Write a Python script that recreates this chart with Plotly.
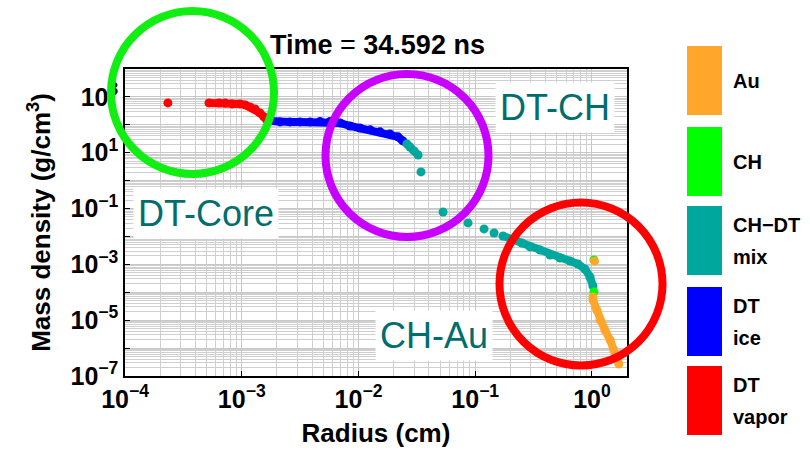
import plotly.graph_objects as go

# ---- density profile at t = 34.592 ns, one array pair per material ----
# None marks a break between separate groups of zones
vapor_r = [2.33e-4, None, 5.24e-4, 6.38e-4, 7.2e-4, 8.25e-4, 9.66e-4, 1.07e-3,
           1.18e-3, 1.30e-3, 1.43e-3, 1.55e-3, 1.64e-3]
vapor_rho = [610, None, 610, 610, 600, 561, 561, 516, 438, 372, 267, 192, 150]

ice_r = [1.75e-3, 2.13e-3, 2.59e-3, 3.16e-3, 3.85e-3, 4.68e-3, 5.70e-3, 6.95e-3,
         8.45e-3, 1.03e-2, 1.26e-2, 1.53e-2, 1.86e-2, 2.18e-2, 2.40e-2]
ice_rho = [138, 127, 127, 127, 127, 132, 132, 117, 91, 77, 66, 56, 47, 37, 26.5]

mix_r = [2.60e-2, 2.76e-2, 2.99e-2, 3.24e-2, None, 3.43e-2, None, 5.30e-2, None,
         8.67e-2, None, 0.119, None, 0.145, None, 0.173, 0.210, 0.251, 0.294,
         0.359, 0.437, 0.532, 0.649, 0.759, 0.871, 0.962, 1.02]
mix_rho = [20.7, 16.1, 11.6, 8.3, None, 2.05, None, 0.0755, None,
           0.0305, None, 0.0186, None, 0.0133, None, 0.0104, 7.5e-3, 5.85e-3, 4.21e-3,
           3.28e-3, 2.17e-3, 1.69e-3, 1.32e-3, 1.03e-3, 6.84e-4, 3.53e-4, 1.68e-4]

ch_r = [1.04, 1.04]
ch_rho = [1.03e-4, 1.44e-3]

au_r = [1.05, None, 1.02, 1.02, 1.10, 1.17, 1.29, 1.43, 1.54, 1.64, 1.70]
au_rho = [1.30e-3, None, 6.8e-5, 5.3e-5, 2.32e-5, 1.02e-5, 4.46e-6, 1.95e-6,
          8.55e-7, 4.42e-7, 2.69e-7]

x_ticks = [1e-4, 1e-3, 1e-2, 1e-1, 1e0]
x_labels = ["10<sup>−4</sup>", "10<sup>−3</sup>", "10<sup>−2</sup>",
            "10<sup>−1</sup>", "10<sup>0</sup>"]
y_ticks = [10.0 ** e for e in range(-7, 5)]
y_labels = ["10<sup>−7</sup>", "", "10<sup>−5</sup>", "", "10<sup>−3</sup>", "",
            "10<sup>−1</sup>", "", "10<sup>1</sup>", "", "10<sup>3</sup>", ""]

legend_names = ["Au", "CH", "CH−DT<br>mix", "DT<br>ice", "DT<br>vapor"]
legend_colors = ["#FFA62B", "#00FF00", "#00A79D", "#0000FF", "#FF0000"]

FONT = "Liberation Sans, Arial, sans-serif"
TEAL_TEXT = "#006E6E"

# plot-area box in page pixels
W, H = 810, 450
L, R, T, B = 125, 627, 69, 376


def px(x):
    return (x - L) / (R - L)


def py(y):
    return (B - y) / (B - T)


fig = go.Figure()


def add_series(r, rho, color, joined=True):
    fig.add_trace(go.Scatter(
        x=r, y=rho, mode="lines+markers" if joined else "markers",
        line=dict(color=color, width=8),
        marker=dict(color=color, size=9, line=dict(width=0)),
        connectgaps=False, showlegend=False, hoverinfo="x+y"))


add_series(vapor_r, vapor_rho, "#FF0000")
add_series(ice_r, ice_rho, "#0000FF")
add_series(mix_r, mix_rho, "#00A79D")
add_series(ch_r, ch_rho, "#00FF00", joined=False)
add_series(au_r, au_rho, "#FFA62B")

minor_x = [m * 10.0 ** e for e in range(-4, 1) for m in range(2, 10)]
minor_y = [m * 10.0 ** e for e in range(-7, 4) for m in range(2, 10)]

axis_common = dict(
    type="log", showline=True, mirror=True, linecolor="black", linewidth=1.5,
    ticks="inside", ticklen=5, tickcolor="black",
    showgrid=True, gridcolor="#C8C8C8", gridwidth=1, zeroline=False,
    tickfont=dict(family=FONT, size=25, color="black", weight="bold"),
    automargin=False,
)

fig.update_xaxes(
    range=[-4, 0.3], tickmode="array", tickvals=x_ticks, ticktext=x_labels,
    minor=dict(tickmode="array", tickvals=minor_x, showgrid=True,
               gridcolor="#CFCFCF", ticks=""),
    title=dict(text="<b>Radius (cm)</b>", standoff=12,
               font=dict(family=FONT, size=26, color="black")),
    **axis_common)

fig.update_yaxes(
    range=[-7, 4], tickmode="array", tickvals=y_ticks, ticktext=y_labels,
    minor=dict(tickmode="array", tickvals=minor_y, showgrid=True,
               gridcolor="#CFCFCF", ticks=""),
    title=dict(text="<b>Mass density (g/cm<sup>3</sup>)</b>", standoff=12,
               font=dict(family=FONT, size=26, color="black")),
    **axis_common)

shapes = []
annotations = []

# highlight rings around the regions of interest
for cx, cy, color in [(192.5, 92.5, "#11EE11"), (407, 155.5, "#C800FF"),
                      (581, 284, "#FF0000")]:
    r = 81.5
    shapes.append(dict(type="circle", xref="paper", yref="paper",
                       x0=px(cx - r), x1=px(cx + r), y0=py(cy + r), y1=py(cy - r),
                       line=dict(color=color, width=8), layer="above"))

# region labels
for text, cx, cy in [("DT-Core", 206, 213), ("DT-CH", 555, 107), ("CH-Au", 434, 335)]:
    annotations.append(dict(
        text=text, xref="paper", yref="paper", x=px(cx), y=py(cy),
        xanchor="center", yanchor="middle", showarrow=False,
        font=dict(family=FONT, size=36, color=TEAL_TEXT),
        bgcolor="white", borderpad=4))

# plot title
annotations.append(dict(
    text="<b>Time</b> = <b>34.592 ns</b>", xref="paper", yref="paper",
    x=px(377), y=py(45), xanchor="center", yanchor="middle", showarrow=False,
    font=dict(family=FONT, size=27, color="black")))

# material key on the right
key_top = [46, 127, 206, 287, 366]
for i, (name, color) in enumerate(zip(legend_names, legend_colors)):
    top = key_top[i]
    shapes.append(dict(type="rect", xref="paper", yref="paper",
                       x0=px(687), x1=px(722), y0=py(top + 69), y1=py(top),
                       fillcolor=color, line=dict(width=0)))
    lines = name.split("<br>")
    mid = top + 35
    offsets = [0] if len(lines) == 1 else [-16, 16]
    for line_text, off in zip(lines, offsets):
        annotations.append(dict(
            text=line_text, xref="paper", yref="paper",
            x=px(731), y=py(mid + off), xanchor="left", yanchor="middle",
            showarrow=False,
            font=dict(family=FONT, size=20, color="black", weight="bold")))

fig.update_layout(
    template="none", width=W, height=H,
    margin=dict(l=L, r=W - R, t=T, b=H - B, autoexpand=False),
    paper_bgcolor="white", plot_bgcolor="white",
    shapes=shapes, annotations=annotations, showlegend=False,
)

fig.write_html("out.html")
